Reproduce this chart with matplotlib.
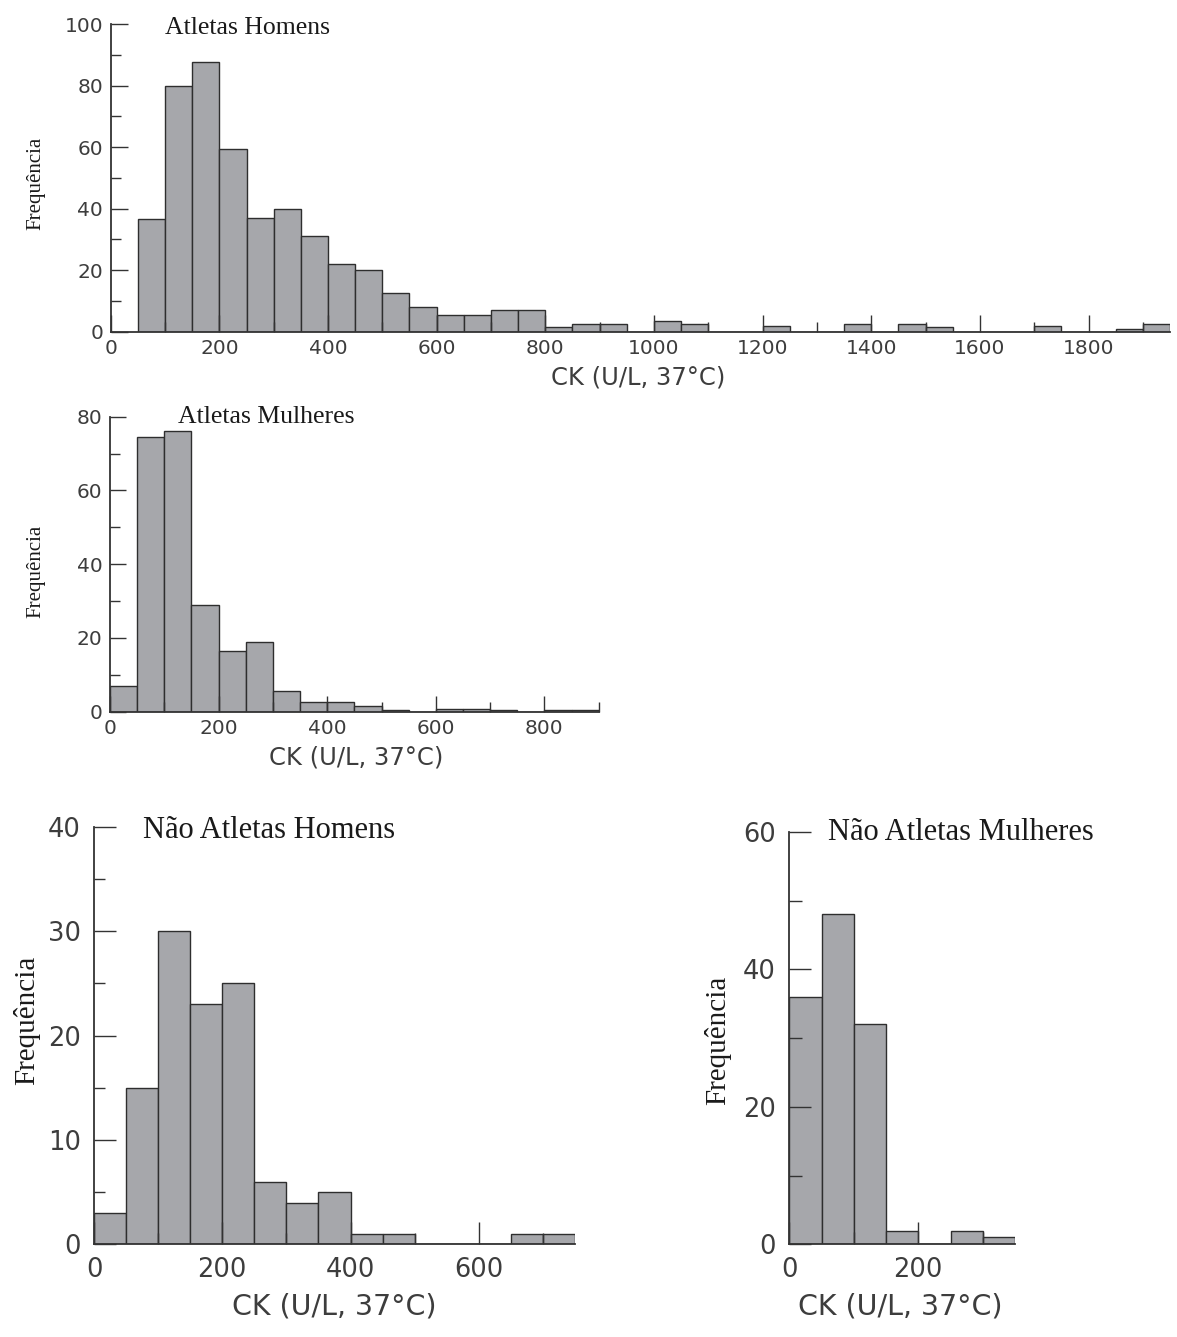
import numpy as np
import matplotlib
matplotlib.use("Agg")
import matplotlib.pyplot as plt
from matplotlib.ticker import MultipleLocator

# ---------------------------------------------------------------------------
# Data: left bin edges (U/L) and bar heights
# ---------------------------------------------------------------------------
BIN_W = 50

ah_edges = list(range(50, 1950, 50))
ah_counts = [36.5, 80, 87.5, 59.5, 37, 40, 31, 22, 20, 12.5, 8, 5.5, 5.5, 7, 7,
             1.5, 2.5, 2.5, 0, 3.5, 2.5, 0, 0, 2, 0, 0, 2.5, 0, 2.5, 1.5,
             0, 0, 0, 2, 0, 0, 1, 2.5]

am_edges = list(range(0, 900, 50))
am_counts = [7, 74.5, 76, 29, 16.5, 19, 5.5, 2.5, 2.5, 1.6, 0.5, 0,
             0.8, 0.8, 0.4, 0, 0.4, 0.4]

nah_edges = list(range(0, 750, 50))
nah_counts = [3, 15, 30, 23, 25, 6, 4, 5, 1, 1, 0, 0, 0, 1, 1]

nam_edges = list(range(0, 350, 50))
nam_counts = [36, 48, 32, 2, 0, 2, 1]

XLABEL = "CK (U/L, 37\u00b0C)"
YLABEL = "Frequ\u00eancia"

BAR_COLOR = '#a6a7ab'
EDGE_COLOR = '#2e2e2e'
TICK_COLOR = '#3d3d3d'

W, H = 1177, 1337
fig = plt.figure(figsize=(W / 100, H / 100), dpi=100)


def px_axes(left, right, top, bottom):
    # figure-pixel box (origin top-left) -> axes
    return fig.add_axes([left / W, 1 - bottom / H, (right - left) / W, (bottom - top) / H])


def style(ax, xlim, ylim, xmaj, xmin, ymaj, ymin, tsize, majlen, minlen, pad):
    ax.set_xlim(*xlim)
    ax.set_ylim(*ylim)
    for s in ['top', 'right']:
        ax.spines[s].set_visible(False)
    for s in ['left', 'bottom']:
        ax.spines[s].set_linewidth(1.3)
        ax.spines[s].set_color('#333333')
    ax.xaxis.set_major_locator(MultipleLocator(xmaj))
    ax.xaxis.set_minor_locator(MultipleLocator(xmin))
    ax.yaxis.set_major_locator(MultipleLocator(ymaj))
    ax.yaxis.set_minor_locator(MultipleLocator(ymin))
    ax.tick_params(which='major', direction='in', length=majlen, width=1.0,
                   color='#333333', labelsize=tsize, labelcolor=TICK_COLOR, pad=pad)
    ax.tick_params(which='minor', direction='in', length=minlen, width=1.0, color='#333333')
    ax.patch.set_alpha(0)


def hist(ax, edges, counts):
    ax.bar(edges, counts, width=BIN_W, align='edge', color=BAR_COLOR,
           edgecolor=EDGE_COLOR, linewidth=1.0, zorder=1)


def labels(ax, title, title_xy, tsize, ylab_xy, ysize, xlab_xy, xsize):
    fig.text(title_xy[0] / W, 1 - title_xy[1] / H, title, family='Liberation Serif',
             fontsize=tsize, ha='left', va='center', color='#1a1a1a')
    fig.text(ylab_xy[0] / W, 1 - ylab_xy[1] / H, YLABEL, family='Liberation Serif',
             fontsize=ysize, rotation=90, ha='center', va='center', color='#1a1a1a')
    fig.text(xlab_xy[0] / W, 1 - xlab_xy[1] / H, XLABEL, family='DejaVu Sans',
             fontsize=xsize, ha='center', va='center', color=TICK_COLOR)


# 1. Atletas Homens
ax1 = px_axes(110.7, 1170, 24, 331.7)
hist(ax1, ah_edges, ah_counts)
style(ax1, (0, 1950), (0, 100), 200, 100, 20, 10, 14.5, 12, 7, 5.5)
labels(ax1, "Atletas Homens", (165, 28), 18.5, (36, 183), 15, (638, 378), 17.5)

# 2. Atletas Mulheres
ax2 = px_axes(110, 598.7, 416.7, 711.7)
hist(ax2, am_edges, am_counts)
style(ax2, (0, 900), (0, 80), 200, 100, 20, 10, 14.5, 11.5, 7, 5.5)
labels(ax2, "Atletas Mulheres", (178, 417), 18.5, (36, 571), 15, (356, 758), 17.5)

# 3. Nao Atletas Homens
ax3 = px_axes(94, 575, 827, 1244.3)
hist(ax3, nah_edges, nah_counts)
style(ax3, (0, 750), (0, 40), 200, 100, 10, 5, 18.5, 16, 8, 9.5)
labels(ax3, "N\u00e3o Atletas Homens", (143, 830), 22, (27, 1020), 21, (334, 1307), 20.5)

# 4. Nao Atletas Mulheres
ax4 = px_axes(789.3, 1015, 832, 1244.3)
hist(ax4, nam_edges, nam_counts)
style(ax4, (0, 350), (0, 60), 200, 100, 20, 10, 18.5, 16, 9, 9.5)
labels(ax4, "N\u00e3o Atletas Mulheres", (828, 833), 22, (718, 1040), 21, (900, 1307), 20.5)

fig.savefig("out.png", dpi=100, facecolor='white')
